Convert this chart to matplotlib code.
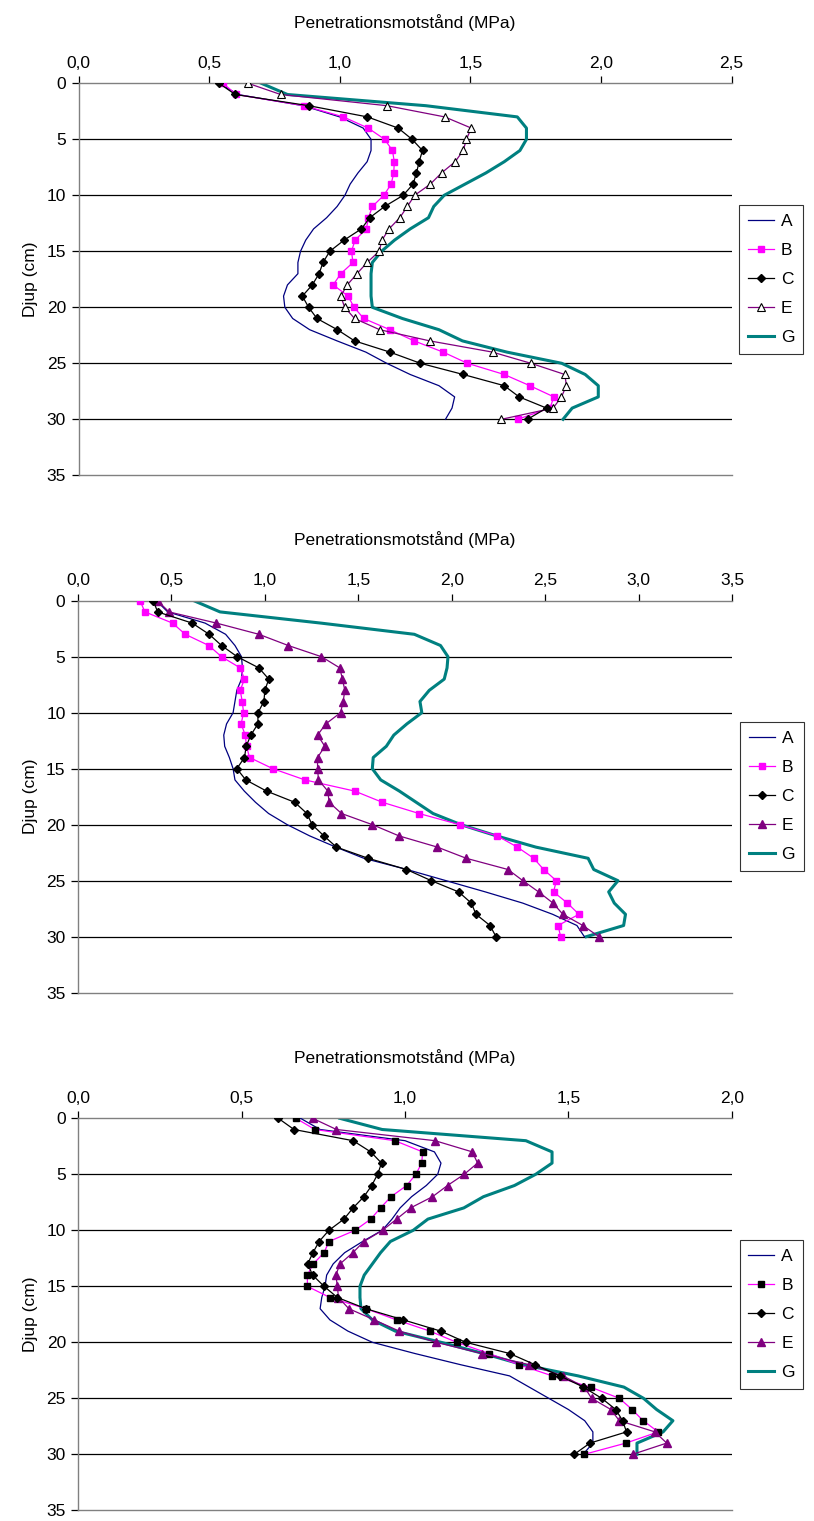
import numpy as np
import matplotlib
matplotlib.use('Agg')
import matplotlib.pyplot as plt
from matplotlib.ticker import FixedLocator, FuncFormatter

plt.rcParams['font.family'] = ['Liberation Sans', 'DejaVu Sans']

# Depth (cm), same for all series
DEPTH = list(range(31))
SERIES_NAMES = ['A', 'B', 'C', 'E', 'G']
X_LABEL = 'Penetrationsmotstånd (MPa)'
Y_LABEL = 'Djup (cm)'

# Panel 1 (MPa)
P1_A = [0.54, 0.61, 0.86, 1.00, 1.09, 1.12, 1.12, 1.105, 1.07, 1.04, 1.02, 0.99, 0.95, 0.90, 0.87, 0.85,
        0.84, 0.84, 0.80, 0.785, 0.79, 0.82, 0.885, 0.99, 1.10, 1.18, 1.27, 1.38, 1.44, 1.43, 1.405]
P1_B = [0.553, 0.604, 0.863, 1.014, 1.109, 1.172, 1.202, 1.209, 1.207, 1.197, 1.169, 1.125, 1.110, 1.102,
        1.059, 1.045, 1.051, 1.004, 0.975, 1.032, 1.055, 1.092, 1.192, 1.285, 1.396, 1.489, 1.630, 1.728,
        1.820, 1.805, 1.681]
P1_C = [0.538, 0.600, 0.882, 1.106, 1.224, 1.277, 1.317, 1.304, 1.294, 1.281, 1.243, 1.172, 1.115, 1.083,
        1.017, 0.962, 0.936, 0.921, 0.895, 0.857, 0.881, 0.913, 0.991, 1.057, 1.192, 1.309, 1.473, 1.630,
        1.687, 1.792, 1.719]
P1_E = [0.649, 0.774, 1.181, 1.402, 1.504, 1.485, 1.473, 1.442, 1.390, 1.347, 1.287, 1.259, 1.230, 1.189,
        1.162, 1.151, 1.105, 1.066, 1.029, 1.004, 1.019, 1.057, 1.153, 1.345, 1.585, 1.732, 1.862, 1.868,
        1.849, 1.817, 1.619]
P1_G = [0.70, 0.80, 1.33, 1.68, 1.715, 1.715, 1.69, 1.63, 1.56, 1.48, 1.40, 1.36, 1.34, 1.27, 1.21, 1.16,
        1.125, 1.12, 1.12, 1.12, 1.125, 1.24, 1.38, 1.47, 1.64, 1.85, 1.94, 1.99, 1.99, 1.89, 1.855]

# Panel 2 (MPa)
P2_A = [0.42, 0.48, 0.68, 0.79, 0.84, 0.875, 0.88, 0.875, 0.85, 0.84, 0.83, 0.795, 0.78, 0.785, 0.81, 0.83,
        0.84, 0.89, 0.95, 1.02, 1.12, 1.24, 1.38, 1.53, 1.76, 1.97, 2.18, 2.38, 2.54, 2.67, 2.71]
P2_B = [0.332, 0.358, 0.506, 0.574, 0.700, 0.768, 0.868, 0.891, 0.868, 0.879, 0.886, 0.873, 0.895, 0.902,
        0.918, 1.043, 1.214, 1.481, 1.629, 1.825, 2.043, 2.244, 2.351, 2.439, 2.492, 2.560, 2.545, 2.619,
        2.681, 2.569, 2.583]
P2_C = [0.403, 0.426, 0.611, 0.702, 0.768, 0.852, 0.968, 1.021, 1.000, 0.995, 0.963, 0.963, 0.925, 0.900,
        0.891, 0.850, 0.898, 1.009, 1.160, 1.225, 1.253, 1.316, 1.383, 1.553, 1.758, 1.891, 2.037, 2.105,
        2.130, 2.205, 2.237]
P2_E = [0.426, 0.487, 0.741, 0.968, 1.125, 1.303, 1.401, 1.415, 1.428, 1.419, 1.405, 1.326, 1.282, 1.321,
        1.282, 1.282, 1.287, 1.337, 1.344, 1.410, 1.576, 1.718, 1.923, 2.078, 2.301, 2.381, 2.465, 2.542,
        2.595, 2.702, 2.788]
P2_G = [0.62, 0.76, 1.30, 1.80, 1.94, 1.98, 1.975, 1.96, 1.88, 1.83, 1.84, 1.76, 1.69, 1.65, 1.58, 1.575,
        1.62, 1.72, 1.81, 1.90, 2.05, 2.24, 2.45, 2.73, 2.76, 2.89, 2.84, 2.87, 2.93, 2.92, 2.72]

# Panel 3 (MPa)
P3_A = [0.68, 0.74, 1.00, 1.09, 1.11, 1.10, 1.065, 1.02, 0.985, 0.96, 0.93, 0.87, 0.815, 0.78, 0.76, 0.755,
        0.745, 0.74, 0.77, 0.825, 0.90, 1.03, 1.17, 1.32, 1.38, 1.44, 1.50, 1.55, 1.575, 1.575, 1.545]
P3_B = [0.666, 0.724, 0.969, 1.054, 1.051, 1.033, 1.005, 0.957, 0.925, 0.895, 0.847, 0.767, 0.752, 0.719,
        0.701, 0.701, 0.770, 0.880, 0.974, 1.076, 1.158, 1.257, 1.349, 1.451, 1.568, 1.656, 1.695, 1.729,
        1.775, 1.676, 1.549]
P3_C = [0.612, 0.660, 0.841, 0.895, 0.928, 0.916, 0.898, 0.874, 0.841, 0.813, 0.767, 0.737, 0.718, 0.702,
        0.717, 0.752, 0.793, 0.880, 0.995, 1.109, 1.186, 1.320, 1.398, 1.474, 1.546, 1.602, 1.645, 1.666,
        1.678, 1.566, 1.518]
P3_E = [0.717, 0.790, 1.092, 1.206, 1.222, 1.181, 1.130, 1.084, 1.017, 0.974, 0.931, 0.874, 0.840, 0.801,
        0.788, 0.793, 0.796, 0.828, 0.906, 0.982, 1.095, 1.235, 1.380, 1.484, 1.549, 1.571, 1.630, 1.656,
        1.765, 1.801, 1.697]
P3_G = [0.80, 0.93, 1.37, 1.45, 1.45, 1.40, 1.335, 1.24, 1.18, 1.07, 1.025, 0.955, 0.925, 0.90, 0.875, 0.862,
        0.862, 0.865, 0.90, 0.97, 1.11, 1.24, 1.36, 1.53, 1.67, 1.73, 1.77, 1.82, 1.79, 1.71, 1.71]

PANELS = [
    {'xmax': 2.5, 'data': [P1_A, P1_B, P1_C, P1_E, P1_G], 'e_open': True, 'b_black': False},
    {'xmax': 3.5, 'data': [P2_A, P2_B, P2_C, P2_E, P2_G], 'e_open': False, 'b_black': False},
    {'xmax': 2.0, 'data': [P3_A, P3_B, P3_C, P3_E, P3_G], 'e_open': False, 'b_black': True},
]

W, H = 814, 1521
fig = plt.figure(figsize=(W / 100, H / 100), dpi=100)

# axes boxes in pixels: left, top, right, bottom
boxes = [(78.5, 83.3, 731.5, 475.3), (78.0, 600.7, 732.0, 992.7), (78.4, 1118.3, 731.7, 1510.3)]

comma = FuncFormatter(lambda v, p: f'{v:.1f}'.replace('.', ','))
GRAY = '#808080'

for panel, (l, t, r, b) in zip(PANELS, boxes):
    ax = fig.add_axes([l / W, 1 - b / H, (r - l) / W, (b - t) / H])
    A, B, C, E, G = panel['data']

    for y in range(5, 35, 5):
        ax.axhline(y, color='black', lw=0.9, zorder=1)

    ax.plot(A, DEPTH, color='#000080', lw=0.9, label='A', zorder=3)
    bface = 'black' if panel['b_black'] else '#FF00FF'
    ax.plot(B, DEPTH, color='#FF00FF', lw=0.9, marker='s', ms=5, mfc=bface, mec=bface,
            label='B', zorder=4)
    cms = 4 if panel['b_black'] else 4.5
    ax.plot(C, DEPTH, color='black', lw=0.9, marker='D', ms=cms, mfc='black', mec='black',
            label='C', zorder=5)
    if panel['e_open']:
        ax.plot(E, DEPTH, color='#800080', lw=0.9, marker='^', ms=5.5, mfc='white', mec='black',
                mew=0.8, label='E', zorder=4)
    else:
        ax.plot(E, DEPTH, color='#800080', lw=0.9, marker='^', ms=6, mfc='#800080', mec='#800080',
                label='E', zorder=4)
    ax.plot(G, DEPTH, color='#008080', lw=2.2, label='G', zorder=2)

    ax.set_xlim(0, panel['xmax'])
    ax.set_ylim(35, 0)
    ax.xaxis.set_major_locator(FixedLocator(np.arange(0, panel['xmax'] + 0.01, 0.5)))
    ax.xaxis.set_major_formatter(comma)
    ax.yaxis.set_major_locator(FixedLocator(range(0, 36, 5)))
    ax.xaxis.tick_top()
    ax.xaxis.set_label_position('top')
    ax.tick_params(axis='x', direction='out', length=5, width=0.9, colors='black',
                   labelsize=12.5, pad=4)
    ax.tick_params(axis='y', direction='out', length=5, width=0.9, labelsize=12.5, pad=4)
    ax.spines['right'].set_visible(False)
    for s in ['top', 'left', 'bottom']:
        ax.spines[s].set_color(GRAY)
        ax.spines[s].set_linewidth(1.0)
    ax.set_xlabel(X_LABEL, fontsize=12.5, labelpad=20)
    ax.set_ylabel(Y_LABEL, fontsize=12.5, labelpad=6)

    leg = ax.legend(loc='center left', bbox_to_anchor=(1.012, 0.5), fontsize=12.5,
                    frameon=True, fancybox=False, edgecolor='black', handlelength=1.5,
                    borderpad=0.5, labelspacing=0.8, handletextpad=0.4, borderaxespad=0)
    leg.get_frame().set_linewidth(0.8)

fig.savefig('out.png', dpi=100)
